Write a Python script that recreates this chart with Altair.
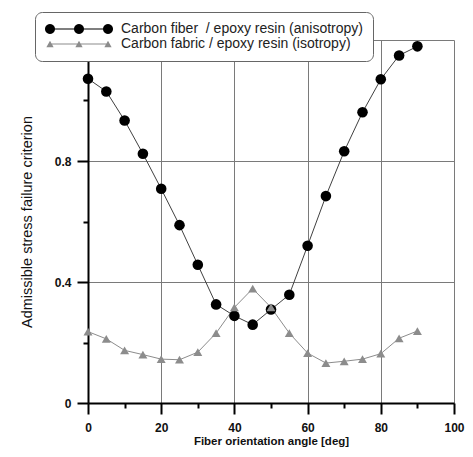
import math
import altair as alt
import pandas as pd

angles = [0, 5, 10, 15, 20, 25, 30, 35, 40, 45, 50, 55, 60, 65, 70, 75, 80, 85, 90]
fiber_epoxy = [1.072, 1.030, 0.934, 0.824, 0.708, 0.588, 0.457, 0.326, 0.288, 0.259,
               0.309, 0.358, 0.520, 0.684, 0.832, 0.961, 1.070, 1.149, 1.179]
fabric_epoxy = [0.236, 0.212, 0.174, 0.160, 0.145, 0.143, 0.168, 0.231, 0.316, 0.378,
                0.316, 0.231, 0.165, 0.132, 0.138, 0.145, 0.163, 0.214, 0.238]
series_names = ["Carbon fiber\u00a0 / epoxy resin (anisotropy)", "Carbon fabric / epoxy resin (isotropy)"]
marker_colors = ["#000000", "#8c8c8c"]
line_colors = ["#404040", "#8c8c8c"]
x_major = [0, 20, 40, 60, 80, 100]
x_minor = [10, 30, 50, 70, 90]
y_major = [0, 0.4, 0.8, 1.2]
y_minor = [0.2, 0.6, 1.0]

rows = []
for name, vals in zip(series_names, [fiber_epoxy, fabric_epoxy]):
    for a, v in zip(angles, vals):
        rows.append({"angle": a, "value": v, "series": name})
df = pd.DataFrame(rows)

FONT = "Liberation Sans"

# legend symbols: thin line with three markers, extending to the right of the nominal symbol
CENTERS = (-0.286, 3.857, 8.0)

def line_bar(t=0.07):
    a, b = CENTERS[0], CENTERS[-1]
    return f"M{a},{-t}L{b},{-t}L{b},{t}L{a},{t}Z"

def circles_path(r=0.72, n=20):
    p = line_bar()
    for cx in CENTERS:
        pts = [(cx + r * math.cos(2 * math.pi * k / n), r * math.sin(2 * math.pi * k / n)) for k in range(n)]
        p += "M" + "L".join(f"{x:.3f},{y:.3f}" for x, y in pts) + "Z"
    return p

def triangles_path(w=0.52, h=0.45):
    p = line_bar()
    for cx in CENTERS:
        p += f"M{cx:.3f},{-h:.3f}L{cx + w:.3f},{h:.3f}L{cx - w:.3f},{h:.3f}Z"
    return p

legend_paths = [circles_path(), triangles_path()]

x_scale = alt.Scale(domain=[0, 100], nice=False, zero=False)
y_scale = alt.Scale(domain=[0, 1.2], nice=False)

x_main = alt.Axis(orient="bottom", values=x_major, grid=True, gridColor="#7a7a7a", gridWidth=1,
                  domainColor="#000000", domainWidth=2, tickColor="#000000", tickWidth=2,
                  tickSize=11, labelFont=FONT, labelFontWeight="bold", labelFontSize=12,
                  labelColor="#111111", labelPadding=8, labelFlush=False,
                  title="Fiber orientation angle [deg]", titleFont=FONT, titleFontWeight="bold",
                  titleFontSize=11.5, titleColor="#111111", titlePadding=2)
y_main = alt.Axis(orient="left", values=y_major, format="~g",
                  labelExpr="datum.value > 1.1 ? '' : datum.label",
                  grid=True, gridColor="#7a7a7a",
                  gridWidth=1, domainColor="#000000", domainWidth=2, tickColor="#000000",
                  tickWidth=2, tickSize=11, labelFont=FONT, labelFontWeight="bold",
                  labelFontSize=12, labelColor="#111111", labelPadding=6, labelFlush=False,
                  title="Admissible stress failure criterion", titleFont=FONT,
                  titleFontWeight="normal", titleFontSize=14.5, titleColor="#111111",
                  titlePadding=20)
x_min = alt.Axis(orient="bottom", values=x_minor, labels=False, domain=False, grid=False,
                 tickColor="#000000", tickWidth=2, tickSize=5, title=None)
y_min = alt.Axis(orient="left", values=y_minor, labels=False, domain=False, grid=False,
                 tickColor="#000000", tickWidth=2, tickSize=5, title=None)

lines = alt.Chart(df).mark_line(strokeWidth=1).encode(
    x=alt.X("angle:Q", scale=x_scale, axis=x_min),
    y=alt.Y("value:Q", scale=y_scale, axis=y_min),
    stroke=alt.Stroke("series:N", scale=alt.Scale(domain=series_names, range=line_colors), legend=None),
    detail="series:N",
)

circles = alt.Chart(df).transform_filter(
    alt.datum.series == series_names[0]
).mark_point(filled=True, opacity=1, shape="circle", size=112, color=marker_colors[0]).encode(
    x=alt.X("angle:Q", scale=x_scale, axis=x_main),
    y=alt.Y("value:Q", scale=y_scale, axis=y_main),
)

triangles = alt.Chart(df).transform_filter(
    alt.datum.series == series_names[1]
).mark_point(filled=True, opacity=1, shape="triangle-up", size=80, color=marker_colors[1]).encode(
    x=alt.X("angle:Q", scale=x_scale, axis=None),
    y=alt.Y("value:Q", scale=y_scale, axis=None),
)

legend = alt.Legend(
    title=None, orient="none", legendX=-53, legendY=-28,
    symbolSize=196, symbolStrokeWidth=0, symbolOpacity=1,
    labelFont=FONT, labelFontSize=14, labelColor="#222222", labelOffset=62,
    rowPadding=1, padding=10, fillColor="#ffffff", strokeColor="#666666",
    cornerRadius=7, labelLimit=400,
)

legend_layer = alt.Chart(df).transform_filter("false").mark_point(filled=True).encode(
    color=alt.Color("series:N", scale=alt.Scale(domain=series_names, range=marker_colors), legend=legend),
    shape=alt.Shape("series:N", scale=alt.Scale(domain=series_names, range=legend_paths), legend=legend),
)

chart = alt.layer(lines, circles, triangles, legend_layer).resolve_axis(
    x="independent", y="independent"
).resolve_scale(color="independent", shape="independent").properties(
    width=366, height=363,
    autosize=alt.AutoSizeParams(type="none"),
    padding={"left": 80, "top": 32, "right": 11, "bottom": 46},
    background="#ffffff",
).configure_view(stroke=None)

chart.save("out.html", embed_options={"renderer": "svg", "actions": False})
